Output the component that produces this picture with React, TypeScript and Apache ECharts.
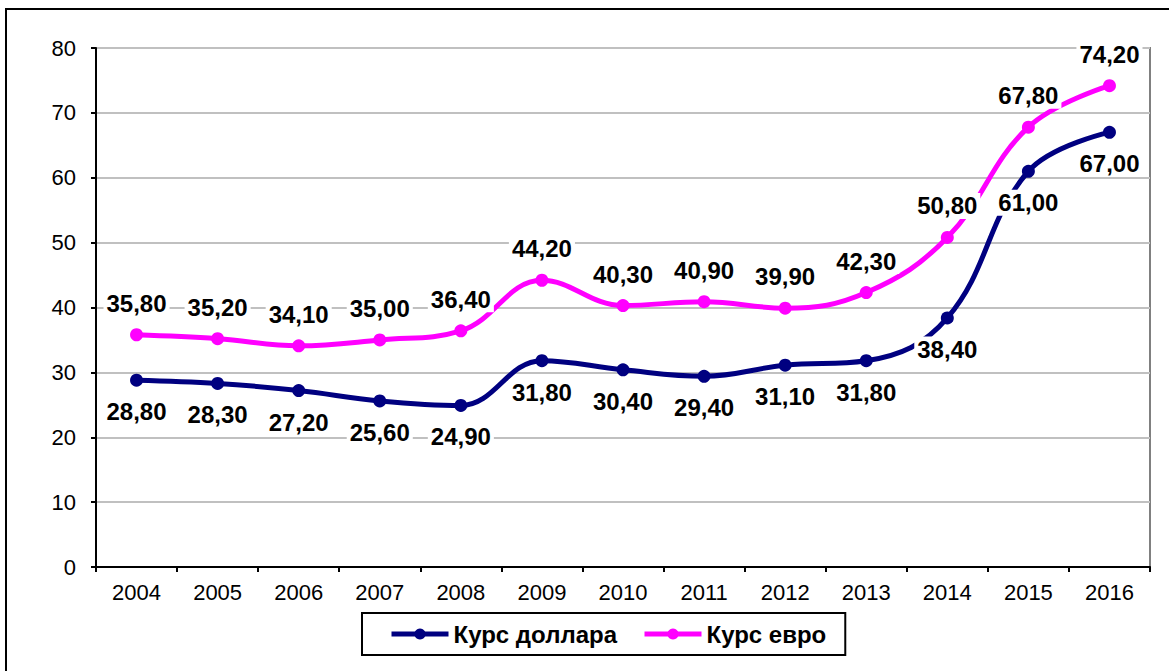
import React, { useEffect, useRef } from "react";
import * as echarts from "echarts";

const years = ["2004", "2005", "2006", "2007", "2008", "2009", "2010", "2011", "2012", "2013", "2014", "2015", "2016"];
const dollar = [28.8, 28.3, 27.2, 25.6, 24.9, 31.8, 30.4, 29.4, 31.1, 31.8, 38.4, 61.0, 67.0];
const euro = [35.8, 35.2, 34.1, 35.0, 36.4, 44.2, 40.3, 40.9, 39.9, 42.3, 50.8, 67.8, 74.2];
const seriesNames = ["Курс доллара", "Курс евро"];

const FONT = "'Liberation Sans', Arial, sans-serif";
const fmt = (v: number) => v.toFixed(2).replace(".", ",");

export default function App() {
  const ref = useRef<HTMLDivElement>(null);
  useEffect(() => {
    document.body.style.margin = "0";
    const chart = echarts.init(ref.current!, null, { renderer: "svg" });
    const labelBase = {
      show: true,
      formatter: (p: any) => fmt(p.value),
      fontFamily: FONT,
      fontSize: 24,
      fontWeight: "bold" as const,
      color: "#000",
      backgroundColor: "#fff",
      padding: [1, 3],
      distance: 12,
    };
    chart.setOption({
      animation: false,
      backgroundColor: "#fff",
      textStyle: { fontFamily: FONT },
      grid: {
        left: 96,
        right: 19,
        top: 48,
        bottom: 104,
        show: true,
        borderColor: "#808080",
        borderWidth: 2,
        backgroundColor: "transparent",
      },
      graphic: [
        {
          type: "rect",
          shape: { x: 6, y: 9, width: 1200, height: 700 },
          style: { fill: "none", stroke: "#000", lineWidth: 2 },
          silent: true,
        },
      ],
      legend: {
        left: 362,
        top: 613,
        borderColor: "#000",
        borderWidth: 2,
        borderRadius: 0,
        padding: [9, 19, 9, 27],
        itemWidth: 57,
        itemHeight: 14,
        itemGap: 25,
        lineStyle: { width: 5 },
        textStyle: { fontFamily: FONT, fontSize: 24, fontWeight: "bold", color: "#000" },
        data: seriesNames,
      },
      xAxis: {
        type: "category",
        data: years,
        boundaryGap: true,
        axisLine: { lineStyle: { color: "#000", width: 2 } },
        axisTick: { show: true, length: 5, lineStyle: { color: "#000", width: 2 } },
        axisLabel: { color: "#000", fontSize: 22, fontFamily: FONT, margin: 14 },
        splitLine: { show: false },
      },
      yAxis: {
        type: "value",
        min: 0,
        max: 80,
        interval: 10,
        axisLine: { show: true, lineStyle: { color: "#000", width: 2 } },
        axisTick: { show: true, length: 5, lineStyle: { color: "#000", width: 2 } },
        axisLabel: { color: "#000", fontSize: 22, fontFamily: FONT, margin: 20 },
        splitLine: { show: true, lineStyle: { color: "#c0c0c0", width: 2 } },
      },
      series: [
        {
          name: seriesNames[0],
          type: "line",
          data: dollar,
          smooth: 0.4,
          symbol: "circle",
          symbolSize: 13,
          lineStyle: { color: "#000080", width: 5 },
          itemStyle: { color: "#000080" },
          label: { ...labelBase, position: "bottom" },
        },
        {
          name: seriesNames[1],
          type: "line",
          data: euro,
          smooth: 0.4,
          symbol: "circle",
          symbolSize: 13,
          lineStyle: { color: "#ff00ff", width: 5 },
          itemStyle: { color: "#ff00ff" },
          label: { ...labelBase, position: "top" },
        },
      ],
    });
    return () => chart.dispose();
  }, []);
  return <div ref={ref} style={{ width: 1169, height: 671 }} />;
}
